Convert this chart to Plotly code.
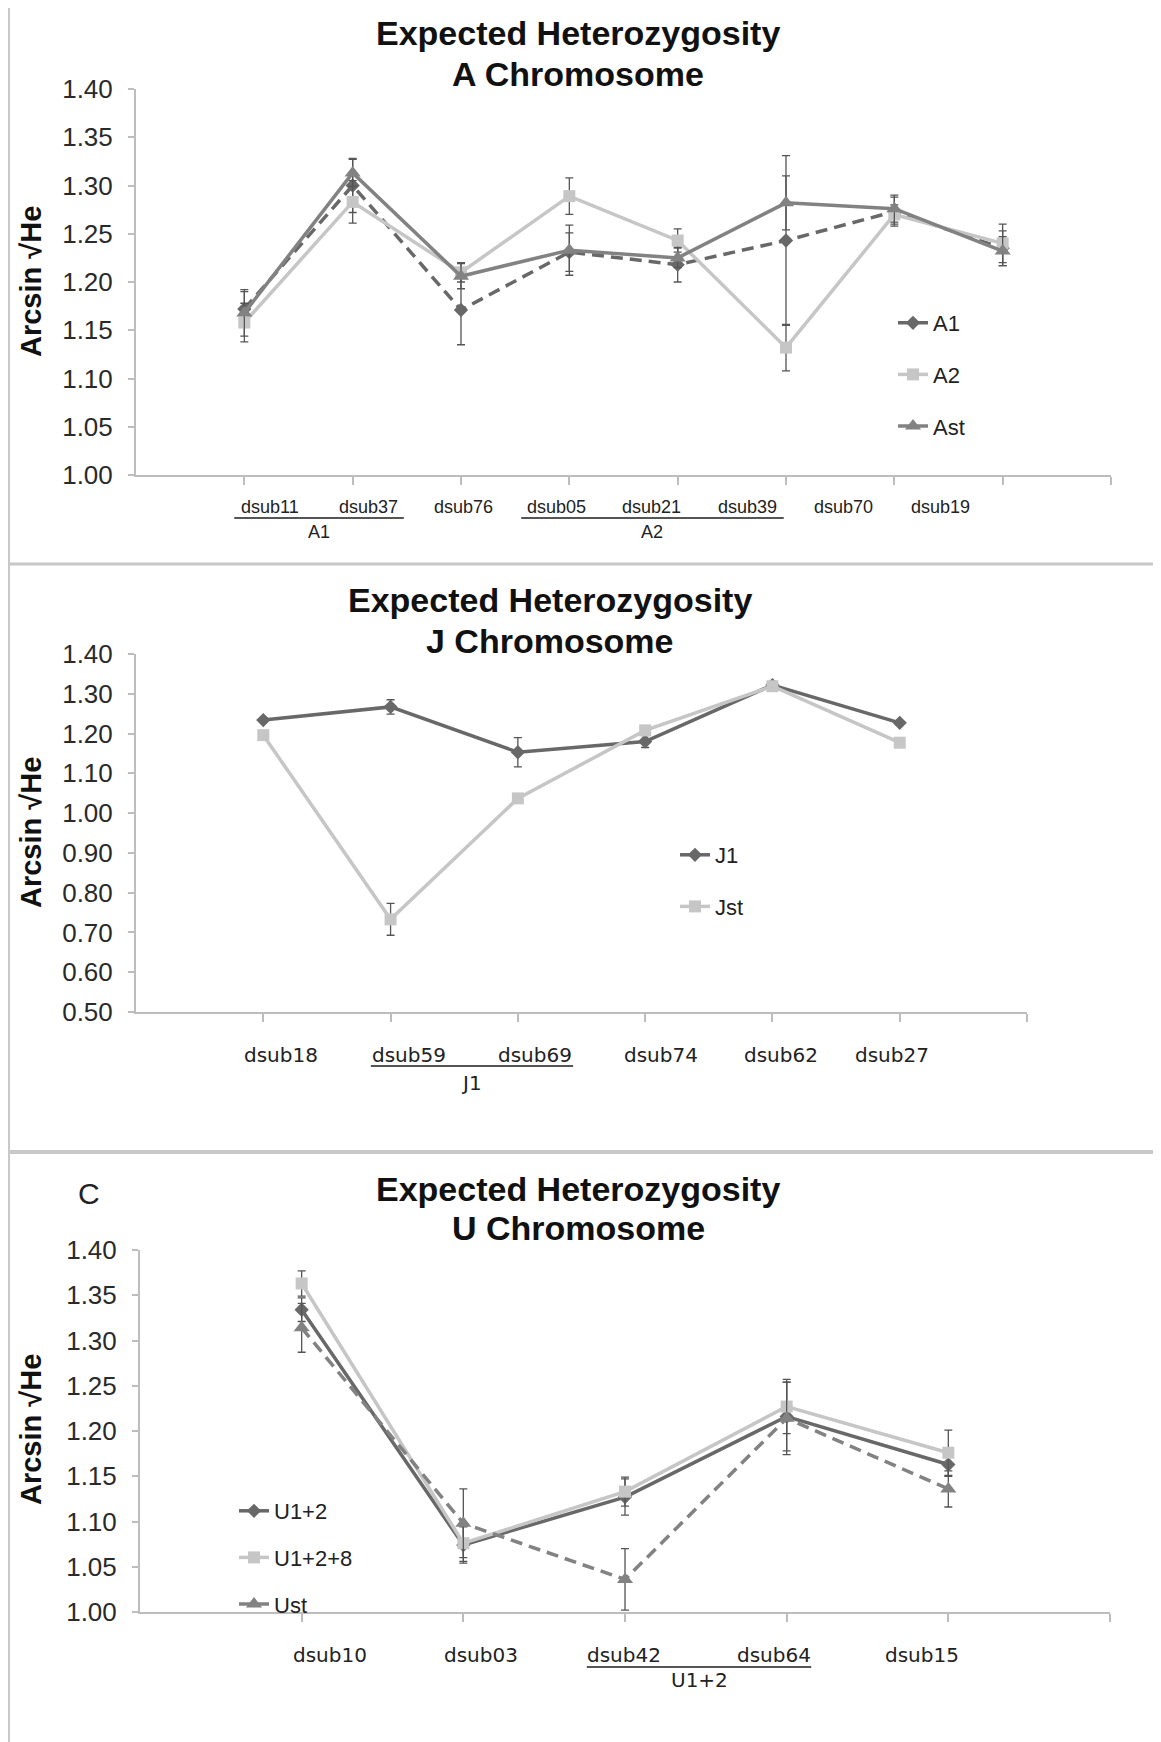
import plotly.graph_objects as go

# ---------------- data ----------------
a_markers = ["dsub11", "dsub37", "dsub76", "dsub05", "dsub21", "dsub39", "dsub70", "dsub19"]
a1_vals = [1.172, 1.300, 1.171, 1.231, 1.218, 1.243, 1.273, 1.235]
a1_err = [0.018, 0.028, 0.036, 0.020, 0.018, 0.088, 0.015, 0.018]
a2_vals = [1.158, 1.283, 1.210, 1.289, 1.243, 1.132, 1.270, 1.240]
a2_err = [0.020, 0.022, 0.010, 0.019, 0.012, 0.024, 0.010, 0.020]
ast_vals = [1.168, 1.313, 1.206, 1.233, 1.225, 1.282, 1.276, 1.232]
ast_err = [0.024, 0.014, 0.013, 0.026, 0.010, 0.028, 0.014, 0.015]

j_markers = ["dsub18", "dsub59", "dsub69", "dsub74", "dsub62", "dsub27"]
j1_vals = [1.234, 1.267, 1.153, 1.180, 1.322, 1.227]
j1_err = [0.005, 0.018, 0.037, 0.015, 0.005, 0.005]
jst_vals = [1.196, 0.733, 1.037, 1.208, 1.319, 1.177]
jst_err = [0.008, 0.040, 0.008, 0.008, 0.006, 0.008]

u_markers = ["dsub10", "dsub03", "dsub42", "dsub64", "dsub15"]
u12_vals = [1.334, 1.074, 1.127, 1.216, 1.163]
u12_err = [0.013, 0.020, 0.020, 0.038, 0.013]
u128_vals = [1.363, 1.076, 1.133, 1.227, 1.176]
u128_err = [0.014, 0.020, 0.016, 0.030, 0.025]
ust_vals = [1.314, 1.098, 1.036, 1.214, 1.136]
ust_err = [0.027, 0.038, 0.034, 0.040, 0.020]

a_groups = [("A1", 0, 1), ("A2", 3, 5)]
j_groups = [("J1", 1, 2)]
u_groups = [("U1+2", 2, 3)]

# ---------------- styles ----------------
DARK = "#686868"
MID = "#828282"
LIGHT = "#c6c6c6"
AXIS = "#bdbdbd"
W, H = 1161, 1742
OX, OY = 8, 8  # page body margin compensation
FONT = "Liberation Sans, Arial, sans-serif"

fig = go.Figure()


def add_series(name, vals, errs, color, symbol, msize, dash, xa, ya, legend):
    xs = list(range(1, len(vals) + 1))
    fig.add_trace(go.Scatter(
        x=xs, y=vals, name=name, mode="lines+markers",
        line=dict(color=color, width=3.5, dash=dash),
        marker=dict(symbol=symbol, size=msize, color=color),
        error_y=dict(type="data", array=errs, visible=True, color="#555555",
                     thickness=1.3, width=4),
        xaxis=xa, yaxis=ya, legend=legend, legendgroup=name,
    ))


add_series("A1", a1_vals, a1_err, DARK, "diamond", 11, "12px,7px", "x", "y", "legend")
add_series("A2", a2_vals, a2_err, LIGHT, "square", 12, "solid", "x", "y", "legend")
add_series("Ast", ast_vals, ast_err, MID, "triangle-up", 14, "solid", "x", "y", "legend")

add_series("J1", j1_vals, j1_err, DARK, "diamond", 11, "solid", "x2", "y2", "legend2")
add_series("Jst", jst_vals, jst_err, LIGHT, "square", 12, "solid", "x2", "y2", "legend2")

add_series("U1+2", u12_vals, u12_err, DARK, "diamond", 11, "solid", "x3", "y3", "legend3")
add_series("U1+2+8", u128_vals, u128_err, LIGHT, "square", 12, "solid", "x3", "y3", "legend3")
add_series("Ust", ust_vals, ust_err, MID, "triangle-up", 14, "12px,7px", "x3", "y3", "legend3")


def px_x(px):
    return (px - OX) / W


def px_y(py):
    return 1 - (py - OY) / H


def xaxis_def(n, left, right):
    return dict(domain=[px_x(left), px_x(right)], range=[0, n + 1],
                showline=True, linecolor=AXIS, linewidth=2,
                ticks="outside", ticklen=8, tickwidth=1.5, tickcolor=AXIS,
                tickvals=list(range(1, n + 2)), ticktext=[""] * (n + 1),
                showgrid=False, zeroline=False, fixedrange=True, automargin=False)


def yaxis_def(top, bottom, rng, dtick, fmt, anchor):
    return dict(domain=[px_y(bottom), px_y(top)], range=rng, dtick=dtick,
                tick0=rng[0], tickformat=fmt,
                showline=True, linecolor=AXIS, linewidth=2,
                ticks="outside", ticklen=6, tickwidth=1.5, tickcolor=AXIS,
                ticklabelstandoff=10,
                tickfont=dict(family=FONT, size=26, color="#2a2a2a"),
                showgrid=False, zeroline=False, anchor=anchor, fixedrange=True,
                automargin=False)


# panel geometry (pixels in the target picture)
P1 = dict(left=136, right=1111, top=89, bottom=475)
P2 = dict(left=136, right=1027, top=654, bottom=1012)
P3 = dict(left=140, right=1110, top=1250, bottom=1612)

fig.update_layout(
    width=W, height=H, margin=dict(l=0, r=0, t=0, b=0, pad=0, autoexpand=False),
    paper_bgcolor="white", plot_bgcolor="white",
    font=dict(family=FONT, color="#222222"),
    xaxis=dict(xaxis_def(len(a_markers), P1["left"], P1["right"]), anchor="y"),
    yaxis=yaxis_def(P1["top"], P1["bottom"], [1.0, 1.4], 0.05, ".2f", "x"),
    xaxis2=dict(xaxis_def(len(j_markers), P2["left"], P2["right"]), anchor="y2"),
    yaxis2=yaxis_def(P2["top"], P2["bottom"], [0.5, 1.4], 0.1, ".2f", "x2"),
    xaxis3=dict(xaxis_def(len(u_markers), P3["left"], P3["right"]), anchor="y3"),
    yaxis3=yaxis_def(P3["top"], P3["bottom"], [1.0, 1.4], 0.05, ".2f", "x3"),
    showlegend=True,
)

leg_common = dict(bgcolor="rgba(0,0,0,0)", borderwidth=0, traceorder="grouped",
                  font=dict(family=FONT, size=22, color="#222222"),
                  xanchor="left", yanchor="top", itemclick=False, itemdoubleclick=False)
fig.update_layout(
    legend=dict(leg_common, tracegroupgap=20, x=px_x(893), y=px_y(302)),
    legend2=dict(leg_common, tracegroupgap=20, x=px_x(675), y=px_y(834)),
    legend3=dict(leg_common, tracegroupgap=15, x=px_x(234), y=px_y(1490)),
)

annotations = []
shapes = []


def title(lines, cx, ys):
    for txt, yy in zip(lines, ys):
        annotations.append(dict(text=f"<b>{txt}</b>", x=px_x(cx), y=px_y(yy), xref="paper", yref="paper",
                                xanchor="center", yanchor="middle", showarrow=False,
                                font=dict(family=FONT, size=34, color="#111111")))


def ytitle(cy):
    annotations.append(dict(text="<b>Arcsin \u221aHe</b>", x=px_x(31), y=px_y(cy), xref="paper", yref="paper",
                            xanchor="center", yanchor="middle", showarrow=False, textangle=-90,
                            font=dict(family=FONT, size=29, color="#111111")))


def cat_labels(names, offsets, xref, ly, fsize, family, groups, uy, gy, uextent):
    for name, off in zip(names, offsets):
        annotations.append(dict(text=name, x=off, y=px_y(ly), xref=xref, yref="paper",
                                xanchor="center", yanchor="middle", showarrow=False,
                                font=dict(family=family, size=fsize, color="#222222")))
    for gname, i0, i1 in groups:
        x0 = offsets[i0] - uextent
        x1 = offsets[i1] + uextent
        shapes.append(dict(type="line", xref=xref, yref="paper", x0=x0, x1=x1,
                           y0=px_y(uy), y1=px_y(uy), line=dict(color="#555555", width=2)))
        annotations.append(dict(text=gname, x=(x0 + x1) / 2, y=px_y(gy), xref=xref, yref="paper",
                                xanchor="center", yanchor="middle", showarrow=False,
                                font=dict(family=family, size=fsize, color="#222222")))


# panel 1
title(["Expected Heterozygosity", "A Chromosome"], 578, [33, 74])
ytitle(282)
cat_labels(a_markers, [1.237, 2.142, 3.019, 3.886, 4.754, 5.649, 6.535, 7.422], "x",
           507, 18, FONT, a_groups, 518, 532, 0.33)
# panel 2
title(["Expected Heterozygosity", "J Chromosome"], 550, [600, 641])
ytitle(833)
cat_labels(j_markers, [1.139, 2.145, 3.134, 4.124, 5.067, 5.939], "x2",
           1055, 20, "DejaVu Sans, sans-serif", j_groups, 1066, 1083, 0.30)
# panel 3
title(["Expected Heterozygosity", "U Chromosome"], 578, [1189, 1228])
ytitle(1430)
cat_labels(u_markers, [1.175, 2.109, 2.994, 3.922, 4.837], "x3",
           1655, 20, "DejaVu Sans, sans-serif", u_groups, 1667, 1680, 0.23)
annotations.append(dict(text="C", x=px_x(89), y=px_y(1193), xref="paper", yref="paper",
                        xanchor="center", yanchor="middle", showarrow=False,
                        font=dict(family=FONT, size=30, color="#222222")))

# frame / separators
shapes.append(dict(type="line", xref="paper", yref="paper", x0=px_x(9), x1=px_x(9), y0=0, y1=1,
                   line=dict(color="#c8c8c8", width=2)))
shapes.append(dict(type="line", xref="paper", yref="paper", x0=px_x(9), x1=1, y0=px_y(564), y1=px_y(564),
                   line=dict(color="#c8c8c8", width=3)))
shapes.append(dict(type="line", xref="paper", yref="paper", x0=px_x(9), x1=1, y0=px_y(1152), y1=px_y(1152),
                   line=dict(color="#c8c8c8", width=4)))

fig.update_layout(annotations=annotations, shapes=shapes)
fig.write_html("out.html")
